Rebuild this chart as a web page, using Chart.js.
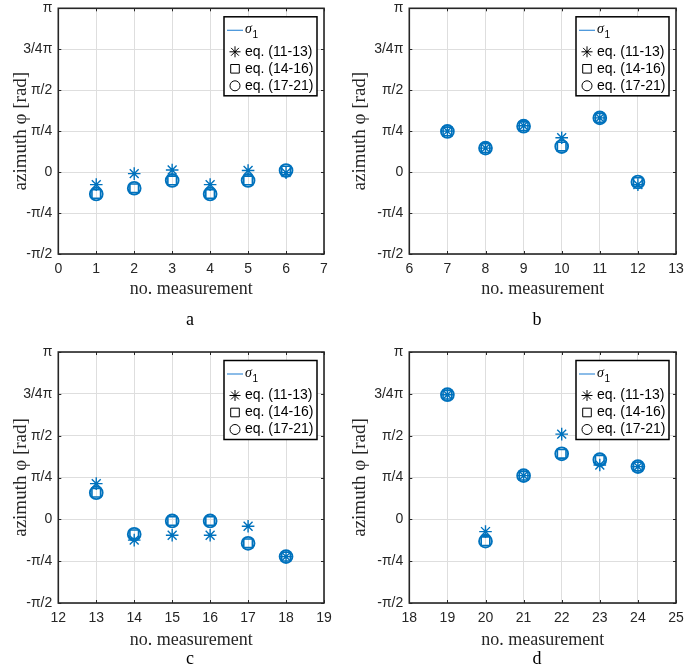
<!DOCTYPE html>
<html><head><meta charset="utf-8">
<script src="https://cdn.jsdelivr.net/npm/chart.js@4.4.1/dist/chart.umd.min.js"></script>
<style>
html,body{margin:0;padding:0;background:#fff;}
#wrap{position:relative;width:685px;height:667px;overflow:hidden;}
canvas{position:absolute;display:block;}
</style></head><body>
<div id="wrap">
<canvas id="ca" style="left:0;top:0"></canvas>
<canvas id="cb" style="left:342px;top:0"></canvas>
<canvas id="cc" style="left:0;top:333px"></canvas>
<canvas id="cd" style="left:342px;top:333px"></canvas>
</div>
<script>
// ---- tick labels ----
const yTickValues = [-Math.PI/2, -Math.PI/4, 0, Math.PI/4, Math.PI/2, 3*Math.PI/4, Math.PI];
const yTickLabels = ['-π/2', '-π/4', '0', 'π/4', 'π/2', '3/4π', 'π'];
const legendLabels = ['σ', 'eq. (11-13)', 'eq. (14-16)', 'eq. (17-21)'];
const panelLetters = ['a', 'b', 'c', 'd'];
const xTitle = 'no. measurement';
const yTitle = 'azimuth φ [rad]';

// ---- data (azimuth in rad) ----
const measA = [1, 2, 3, 4, 5, 6];
const starA = [-0.24, -0.03, 0.04, -0.24, 0.03, -0.01];
const squareA = [-0.42, -0.31, -0.16, -0.42, -0.16, 0.03];
const circleA = [-0.42, -0.31, -0.16, -0.42, -0.16, 0.03];

const measB = [7, 8, 9, 10, 11, 12];
const starB = [0.785, 0.46, 0.89, 0.66, 1.04, -0.24];
const squareB = [0.78, 0.46, 0.88, 0.49, 1.04, -0.19];
const circleB = [0.78, 0.46, 0.88, 0.49, 1.04, -0.19];

const measC = [13, 14, 15, 16, 17, 18];
const starC = [0.67, -0.39, -0.30, -0.30, -0.13, -0.70];
const squareC = [0.50, -0.28, -0.03, -0.03, -0.45, -0.70];
const circleC = [0.50, -0.28, -0.03, -0.03, -0.45, -0.70];

const measD = [19, 20, 21, 22, 23, 24];
const starD = [2.34, -0.23, 0.82, 1.60, 1.02, 0.99];
const squareD = [2.34, -0.41, 0.82, 1.23, 1.12, 0.99];
const circleD = [2.34, -0.41, 0.82, 1.23, 1.12, 0.99];

const xRanges = [[0, 7], [6, 13], [12, 19], [18, 25]];

// ---- style ----
const BLUE = '#0072BD';
const AXC = '#262626';
const GRID = '#dedede';

function drawMarker(ctx, style, x, y, r) {
  ctx.beginPath();
  if (style === 'star') {
    const d = r * Math.SQRT1_2;
    ctx.moveTo(x - r, y); ctx.lineTo(x + r, y);
    ctx.moveTo(x, y - r); ctx.lineTo(x, y + r);
    ctx.moveTo(x - d, y - d); ctx.lineTo(x + d, y + d);
    ctx.moveTo(x - d, y + d); ctx.lineTo(x + d, y - d);
  } else if (style === 'rect') {
    ctx.rect(x - r, y - r, 2 * r, 2 * r);
  } else {
    ctx.arc(x, y, r, 0, Math.PI * 2);
  }
  ctx.stroke();
}

const boxPlugin = {
  id: 'boxPlugin',
  afterDraw(chart, args, opts) {
    const ctx = chart.ctx;
    const a = chart.chartArea;
    const xs = chart.scales.x, ys = chart.scales.y;
    ctx.save();
    // inward tick marks
    ctx.strokeStyle = AXC; ctx.lineWidth = 1;
    ctx.beginPath();
    xs.ticks.forEach(t => {
      const px = Math.round(xs.getPixelForValue(t.value)) + 0.5;
      ctx.moveTo(px, a.bottom); ctx.lineTo(px, a.bottom - 3);
      ctx.moveTo(px, a.top); ctx.lineTo(px, a.top + 3);
    });
    ys.ticks.forEach(t => {
      const py = Math.round(ys.getPixelForValue(t.value)) + 0.5;
      ctx.moveTo(a.left, py); ctx.lineTo(a.left + 3, py);
      ctx.moveTo(a.right, py); ctx.lineTo(a.right - 3, py);
    });
    ctx.stroke();
    // axes box
    ctx.lineWidth = 1.6;
    ctx.strokeRect(a.left, a.top, a.right - a.left, a.bottom - a.top);

    // legend box
    const bw = 93, bh = 79;
    const bx = a.right - 7 - bw, by = a.top + 8.5;
    ctx.fillStyle = '#fff';
    ctx.fillRect(bx, by, bw, bh);
    ctx.lineWidth = 1.5; ctx.strokeStyle = '#000';
    ctx.strokeRect(bx, by, bw, bh);
    const rowsY = [13.5, 35, 52, 69];
    const mx = bx + 11, tx = bx + 21;
    // line entry
    ctx.strokeStyle = '#3d8fd8'; ctx.lineWidth = 1.2;
    ctx.beginPath(); ctx.moveTo(bx + 3, by + rowsY[0]); ctx.lineTo(bx + 19, by + rowsY[0]); ctx.stroke();
    ctx.fillStyle = '#000';
    ctx.textBaseline = 'middle'; ctx.textAlign = 'left';
    ctx.font = 'italic 14px "Liberation Serif"';
    ctx.fillText(legendLabels[0], tx, by + rowsY[0] - 1);
    const sw = ctx.measureText(legendLabels[0]).width;
    ctx.font = '10px "Liberation Sans"';
    ctx.fillText('1', tx + sw + 0.5, by + rowsY[0] + 5);
    // marker entries
    ctx.strokeStyle = '#000'; ctx.lineWidth = 1;
    drawMarker(ctx, 'star', mx, by + rowsY[1], 5.5);
    drawMarker(ctx, 'rect', mx, by + rowsY[2], 4.3);
    drawMarker(ctx, 'circle', mx, by + rowsY[3], 5);
    ctx.font = '14px "Liberation Sans"';
    ctx.fillText(legendLabels[1], tx, by + rowsY[1]);
    ctx.fillText(legendLabels[2], tx, by + rowsY[2]);
    ctx.fillText(legendLabels[3], tx, by + rowsY[3]);

    // panel letter
    ctx.font = '18px "Liberation Serif"';
    ctx.fillStyle = '#000';
    ctx.textAlign = 'center';
    ctx.fillText(opts.letter, opts.lx, opts.ly);
    ctx.restore();
  }
};

function makeChart(id, W, H, area, xr, meas, star, square, circle, letter, lx, ly, xtPad, ytPad) {
  const cv = document.getElementById(id);
  cv.width = W; cv.height = H;
  const pts = arr => meas.map((m, i) => ({x: m, y: arr[i]}));
  return new Chart(cv, {
    type: 'scatter',
    data: {
      datasets: [
        {label: legendLabels[1], data: pts(star), pointStyle: 'star', pointRadius: 6.3, borderColor: BLUE, backgroundColor: 'rgba(0,0,0,0)', pointBorderWidth: 1.4},
        {label: legendLabels[2], data: pts(square), pointStyle: 'rect', pointRadius: 6.1, borderColor: BLUE, backgroundColor: 'rgba(0,0,0,0)', pointBorderWidth: 1.6},
        {label: legendLabels[3], data: pts(circle), pointStyle: 'circle', pointRadius: 6.4, borderColor: BLUE, backgroundColor: 'rgba(0,0,0,0)', pointBorderWidth: 1.9}
      ]
    },
    options: {
      responsive: false,
      animation: false,
      events: [],
      layout: {padding: {left: 0, top: area.t, right: W - area.r, bottom: 0}},
      plugins: {
        legend: {display: false},
        tooltip: {enabled: false},
        boxPlugin: {letter: letter, lx: lx, ly: ly}
      },
      scales: {
        x: {
          type: 'linear', min: xr[0], max: xr[1],
          ticks: {stepSize: 1, color: AXC, font: {family: 'Liberation Sans', size: 14}, padding: 7, maxRotation: 0, autoSkip: false},
          grid: {color: GRID, drawTicks: false, lineWidth: 1},
          border: {display: false},
          title: {display: true, text: xTitle, color: AXC, font: {family: 'Liberation Serif', size: 18}, padding: {top: 0, bottom: xtPad}},
          afterFit: s => { s.height = H - area.b; s.paddingLeft = 0; s.paddingRight = 0; }
        },
        y: {
          type: 'linear', min: -Math.PI / 2, max: Math.PI,
          afterBuildTicks: s => { s.ticks = yTickValues.map(v => ({value: v})); },
          ticks: {color: AXC, font: {family: 'Liberation Sans', size: 14}, padding: 6, callback: (v, i) => yTickLabels[i], autoSkip: false},
          grid: {color: GRID, drawTicks: false, lineWidth: 1},
          border: {display: false},
          title: {display: true, text: yTitle, color: AXC, font: {family: 'Liberation Serif', size: 19}, padding: {top: ytPad, bottom: 0}},
          afterFit: s => { s.width = area.l; s.paddingTop = 0; s.paddingBottom = 0; }
        }
      }
    },
    plugins: [boxPlugin]
  });
}

makeChart('ca', 342, 333, {l: 58.3, t: 3.3, r: 324, b: 254}, xRanges[0], measA, starA, squareA, circleA, panelLetters[0], 190, 320, 33, 10);
makeChart('cb', 343, 333, {l: 67.3, t: 3.3, r: 334, b: 254}, xRanges[1], measB, starB, squareB, circleB, panelLetters[1], 195, 320, 33, 7);
makeChart('cc', 342, 334, {l: 58.3, t: 19, r: 324, b: 270}, xRanges[2], measC, starC, squareC, circleC, panelLetters[2], 190, 326, 16, 10);
makeChart('cd', 343, 334, {l: 67.3, t: 19, r: 334, b: 270}, xRanges[3], measD, starD, squareD, circleD, panelLetters[3], 195, 326, 16, 7);
</script>
</body></html>
